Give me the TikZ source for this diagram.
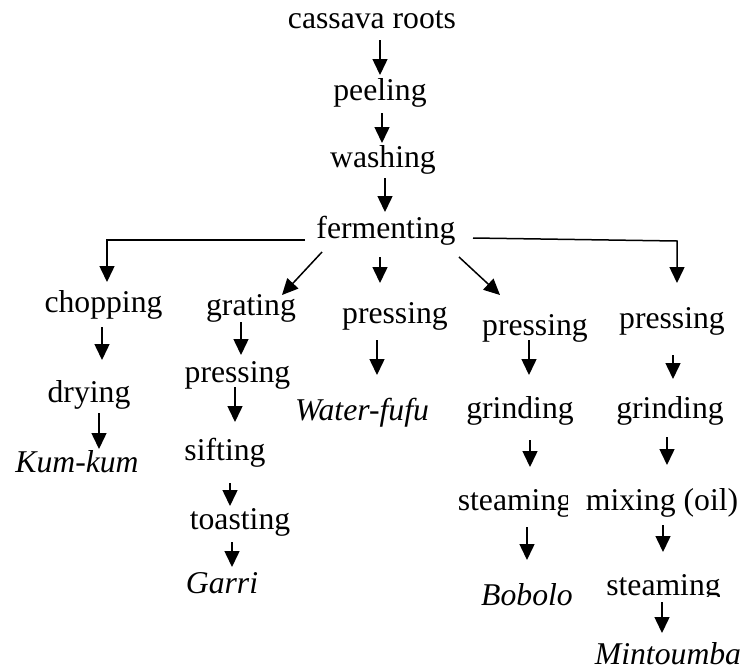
\documentclass[tikz,border=0pt]{standalone}
\usepackage{fontspec}
\setmainfont{Liberation Serif}
\usetikzlibrary{arrows.meta}
\tikzset{
  lbl/.style={anchor=base, inner sep=0pt, font=\fontsize{31.7}{38}\selectfont},
  arr/.style={-{Triangle[length=16pt,width=15pt]}, line width=1.5pt}
}
\begin{document}
\begin{tikzpicture}[x=1pt,y=-1pt]
\useasboundingbox (0,0) rectangle (744,670);
% nodes
\node[lbl] (cassava) at (372,28) {cassava roots};
\node[lbl] (peeling) at (380,100) {peeling};
\node[lbl] (washing) at (383,167) {washing};
\node[lbl] (ferm) at (386,238) {fermenting};
% column 1
\node[lbl] (chop) at (103.5,312) {chopping};
\node[lbl] (dry) at (89,402) {drying};
\node[lbl] (kum) at (77,472) {\textit{Kum-kum}};
% column 2
\node[lbl] (grat) at (251,315) {grating};
\begin{scope}
\clip (150,250) rectangle (330,388);
\node[lbl] (press2) at (237.5,382) {pressing};
\end{scope}
\node[lbl] (sift) at (225,460) {sifting};
\node[lbl] (toast) at (240,529) {toasting};
\node[lbl] (garri) at (222,593) {\textit{Garri}};
% column 3
\node[lbl] (press3) at (395,323) {pressing};
\node[lbl] (water) at (362,420) {\textit{Water-fufu}};
% column 4
\node[lbl] (press4) at (535,335) {pressing};
\node[lbl] (grind4) at (520,418) {grinding};
\begin{scope}
\clip (440,470) rectangle (567,530);
\node[lbl] (steam4) at (515,510) {steaming};
\end{scope}
\node[lbl] (bobolo) at (527,605) {\textit{Bobolo}};
% column 5
\node[lbl] (press5) at (672,328) {pressing};
\node[lbl] (grind5) at (670,418) {grinding};
\node[lbl] (mix) at (662,510) {mixing (oil)};
\begin{scope}
\clip (590,560) rectangle (740,596);
\node[lbl] (steam5) at (663.5,595) {steaming};
\end{scope}
\node[lbl] (mint) at (668,664) {\textit{Mintoumba}};
% main chain
\draw[arr] ([xshift=8pt,yshift=-12pt]cassava.base) -- ([xshift=0pt,yshift=25pt]peeling.base);
\draw[arr] ([xshift=2pt,yshift=-13pt]peeling.base) -- ([xshift=-1pt,yshift=24pt]washing.base);
\draw[arr] ([xshift=2pt,yshift=-11pt]washing.base) -- ([xshift=-1pt,yshift=26pt]ferm.base);
% branches
\draw[arr] ([xshift=-81pt,yshift=-2pt]ferm.base) -| ([xshift=3.5pt,yshift=30pt]chop.base);
\draw[arr] ([xshift=-64pt,yshift=-14pt]ferm.base) -- ([xshift=31pt,yshift=20pt]grat.base);
\draw[arr] ([xshift=-6pt,yshift=-19pt]ferm.base) -- ([xshift=-15pt,yshift=40pt]press3.base);
\draw[arr] ([xshift=73pt,yshift=-19pt]ferm.base) -- ([xshift=-35pt,yshift=40pt]press4.base);
\draw[arr] ([xshift=87pt,yshift=0pt]ferm.base) -- ([xshift=5pt,yshift=87pt]press5.base) -- ([xshift=5pt,yshift=45pt]press5.base);
% column 1
\draw[arr] ([xshift=-1.5pt,yshift=-15pt]chop.base) -- ([xshift=13pt,yshift=42pt]dry.base);
\draw[arr] ([xshift=10pt,yshift=-11pt]dry.base) -- ([xshift=22pt,yshift=23pt]kum.base);
% column 2
\draw[arr] ([xshift=-10pt,yshift=-7pt]grat.base) -- ([xshift=3.5pt,yshift=27pt]press2.base);
\draw[arr] ([xshift=-2.5pt,yshift=-5pt]press2.base) -- ([xshift=10pt,yshift=38pt]sift.base);
\draw[arr] ([xshift=5pt,yshift=-23pt]sift.base) -- ([xshift=-10pt,yshift=23pt]toast.base);
\draw[arr] ([xshift=-8pt,yshift=-13pt]toast.base) -- ([xshift=10pt,yshift=26pt]garri.base);
% column 3
\draw[arr] ([xshift=-18pt,yshift=-17pt]press3.base) -- ([xshift=15pt,yshift=45pt]water.base);
% column 4
\draw[arr] ([xshift=-6pt,yshift=-5pt]press4.base) -- ([xshift=9pt,yshift=43pt]grind4.base);
\draw[arr] ([xshift=10pt,yshift=-22pt]grind4.base) -- ([xshift=15pt,yshift=43pt]steam4.base);
\draw[arr] ([xshift=12pt,yshift=-17pt]steam4.base) -- ([xshift=0pt,yshift=45pt]bobolo.base);
% column 5
\draw[arr] ([xshift=1pt,yshift=-27pt]press5.base) -- ([xshift=3pt,yshift=39pt]grind5.base);
\draw[arr] ([xshift=-3pt,yshift=-19pt]grind5.base) -- ([xshift=5pt,yshift=45pt]mix.base);
\draw[arr] ([xshift=1pt,yshift=-15pt]mix.base) -- ([xshift=-0.5pt,yshift=43pt]steam5.base);
\draw[arr] ([xshift=-1.5pt,yshift=-7pt]steam5.base) -- ([xshift=-6pt,yshift=31pt]mint.base);
\end{tikzpicture}
\end{document}
